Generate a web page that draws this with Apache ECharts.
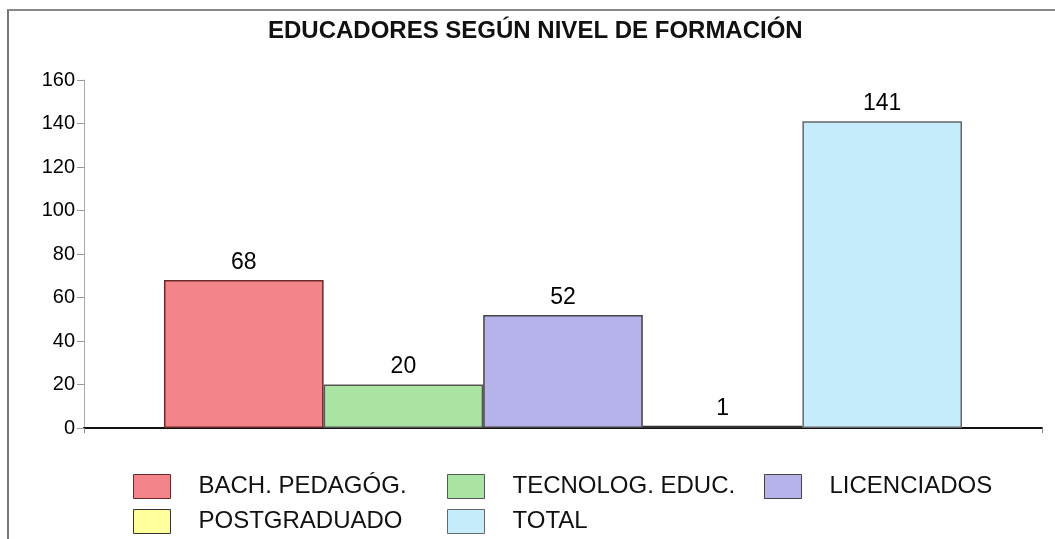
<!DOCTYPE html>
<html>
<head>
<meta charset="utf-8">
<script src="https://cdn.jsdelivr.net/npm/echarts@6/dist/echarts.min.js"></script>
<style>
  body { margin: 0; background: #fff; }
  .box { position: relative; width: 1055px; height: 539px; overflow: hidden; }
  .frame { position: absolute; left: 7px; top: 9px; width: 2000px; height: 2000px;
           border-left: 2px solid #777; border-top: 2px solid #888; }
  #chart { position: absolute; left: 0; top: 0; width: 1055px; height: 539px; }
</style>
</head>
<body>
<div class="box">
  <div class="frame"></div>
  <div id="chart"></div>
</div>
<script>
// datos
var titulo = "EDUCADORES SEGÚN NIVEL DE FORMACIÓN";
var niveles = ["BACH. PEDAGÓG.", "TECNOLOG. EDUC.", "LICENCIADOS", "POSTGRADUADO", "TOTAL"];
var valores = [68, 20, 52, 1, 141];
var colores = ["#f3858a", "#a9e4a2", "#b5b3ea", "#ffff9c", "#c6ebfb"];
var bordes = ["#6a2a2a", "#555555", "#444444", "#333333", "#666666"];

var fuente = "Liberation Sans, Arial, sans-serif";
var myChart = echarts.init(document.getElementById("chart"));

var series = [];
for (let i = 0; i < niveles.length; i++) {
  series.push({
    name: niveles[i],
    type: "bar",
    data: [valores[i]],
    barGap: "0%",
    barCategoryGap: "16.7%",
    itemStyle: { color: colores[i], borderColor: bordes[i], borderWidth: 1.5 },
    label: {
      show: true,
      position: "top",
      distance: 6,
      fontSize: 23,
      color: "#000",
      fontFamily: fuente,
    },
  });
}

function leyenda(left, data) {
  return {
    orient: "vertical",
    left: left,
    top: 474,
    icon: "rect",
    itemWidth: 37,
    itemHeight: 24,
    itemGap: 10,
    padding: 0,
    data: data,
    itemStyle: { borderWidth: 1 },
    textStyle: { fontSize: 24, color: "#111", fontFamily: fuente, padding: [0, 0, 0, 23] },
  };
}

let option = {
  animation: false,
  title: {
    text: titulo,
    left: 268,
    top: 19,
    padding: 0,
    textStyle: { fontSize: 24, fontWeight: "bold", color: "#111", fontFamily: fuente },
  },
  legend: [
    leyenda(133, [niveles[0], niveles[3]]),
    leyenda(447, [niveles[1], niveles[4]]),
    leyenda(764, [niveles[2]]),
  ],
  grid: { left: 84, right: 13, top: 80, bottom: 111 },
  xAxis: {
    type: "category",
    data: [""],
    axisLine: { lineStyle: { color: "#111", width: 2 } },
    axisTick: { show: true, length: 5, lineStyle: { color: "#888" } },
    axisLabel: { show: false },
  },
  yAxis: {
    type: "value",
    min: 0,
    max: 160,
    interval: 20,
    splitLine: { show: false },
    axisLine: { show: true, lineStyle: { color: "#aaa", width: 1 } },
    axisTick: { show: true, length: 7, lineStyle: { color: "#999" } },
    axisLabel: { fontSize: 20, color: "#000", margin: 9, fontFamily: fuente },
  },
  series: series,
};
myChart.setOption(option);
</script>
</body>
</html>
